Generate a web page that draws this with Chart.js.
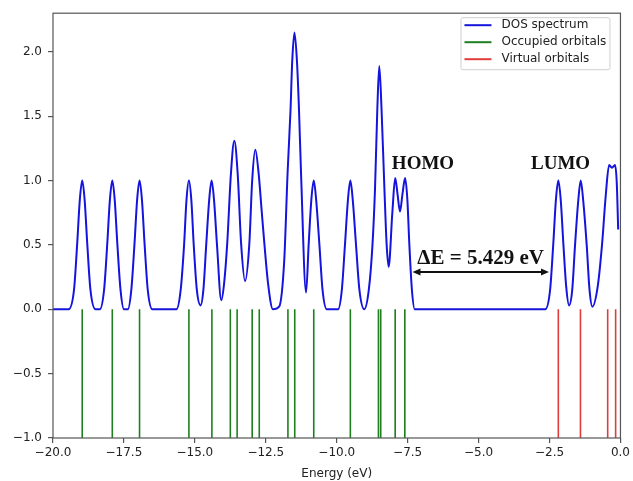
<!DOCTYPE html>
<html>
<head>
<meta charset="utf-8">
<script src="https://cdn.jsdelivr.net/npm/chart.js@4.4.0/dist/chart.umd.min.js"></script>
<style>
  html, body { margin: 0; padding: 0; background: #fff; }
  #dos { display: block; }
</style>
</head>
<body>
<canvas id="dos" width="633" height="481"></canvas>
<script>
// DOS curve (energy in eV, intensity)
const dosEnergy = [
  -20.0, -19.45, -19.26, -19.15, -19.055, -18.97, -18.885, -18.79, -18.68, -18.50,
  -18.35, -18.20, -18.09, -17.995, -17.91, -17.825, -17.73, -17.62, -17.50,
  -17.36, -17.24, -17.13, -17.035, -16.95, -16.865, -16.77, -16.66, -16.50,
  -15.65, -15.50, -15.38, -15.295, -15.21, -15.125, -15.04, -14.93, -14.80,
  -14.70, -14.60, -14.495, -14.41, -14.325, -14.22, -14.07,
  -13.97, -13.86, -13.73, -13.61, -13.49, -13.37, -13.23,
  -13.08, -12.98, -12.87, -12.75, -12.64, -12.55, -12.42, -12.25,
  -12.03, -11.85, -11.73, -11.63, -11.57, -11.49, -11.40, -11.33, -11.26, -11.08,
  -10.99, -10.895, -10.81, -10.725, -10.61, -10.50, -10.35,
  -9.95, -9.82, -9.71, -9.605, -9.52, -9.435, -9.32, -9.20, -9.03,
  -8.87, -8.74, -8.65, -8.57, -8.50, -8.42, -8.32, -8.24, -8.17,
  -8.04, -7.94, -7.86, -7.77, -7.68, -7.59, -7.51, -7.44, -7.35, -7.25,
  -2.65, -2.48, -2.37, -2.275, -2.19, -2.105, -2.01, -1.91, -1.81,
  -1.70, -1.60, -1.485, -1.40, -1.315, -1.19, -1.09, -0.99,
  -0.80, -0.65, -0.52, -0.40, -0.30, -0.19, -0.13, -0.08
];
const dosValue = [
  0.00, 0.00, 0.15, 0.50, 0.85, 1.00, 0.85, 0.50, 0.15, 0.00,
  0.00, 0.15, 0.50, 0.85, 1.00, 0.85, 0.50, 0.15, 0.00,
  0.00, 0.15, 0.50, 0.85, 1.00, 0.85, 0.50, 0.15, 0.00,
  0.00, 0.15, 0.50, 0.85, 1.00, 0.85, 0.50, 0.15, 0.03,
  0.15, 0.50, 0.85, 1.00, 0.85, 0.50, 0.07,
  0.20, 0.51, 1.05, 1.31, 1.05, 0.51, 0.22,
  0.51, 1.00, 1.24, 1.05, 0.75, 0.51, 0.20, 0.00,
  0.02, 0.38, 1.07, 1.54, 1.92, 2.15, 1.92, 1.55, 1.07, 0.13,
  0.50, 0.85, 1.00, 0.85, 0.50, 0.15, 0.00,
  0.00, 0.15, 0.50, 0.85, 1.00, 0.85, 0.50, 0.15, 0.00,
  0.15, 0.50, 0.94, 1.55, 1.89, 1.55, 0.94, 0.50, 0.33,
  0.75, 1.02, 0.90, 0.76, 0.90, 1.02, 0.85, 0.50, 0.15, 0.00,
  0.00, 0.15, 0.50, 0.85, 1.00, 0.85, 0.50, 0.17, 0.03,
  0.15, 0.50, 0.85, 1.00, 0.85, 0.50, 0.15, 0.02,
  0.18, 0.50, 0.88, 1.12, 1.10, 1.12, 0.98, 0.62
];

// orbital energies (eV)
const occupied = [-18.97, -17.91, -16.95, -15.21, -14.40, -13.75, -13.51, -12.98, -12.73,
                  -11.72, -11.48, -10.81, -9.52, -8.53, -8.45, -7.94, -7.60];
const virtual = [-2.19, -1.41, -0.45, -0.17];

const xTicks = [-20, -17.5, -15, -12.5, -10, -7.5, -5, -2.5, 0];
const yTicks = [-1, -0.5, 0, 0.5, 1, 1.5, 2];

const gapText = 'ΔE = 5.429 eV';

// vertical sticks from 0 down to -1, separated by null gaps
function sticks(energies) {
  const pts = [];
  energies.forEach(e => {
    pts.push({x: e, y: 0}, {x: e, y: -1}, {x: e, y: null});
  });
  return pts;
}

const tickFmt = v => v.toFixed(1).replace('-', '\u2212');

// box around the plot
const framePlugin = {
  id: 'frame',
  afterDatasetsDraw(chart) {
    const a = chart.chartArea, ctx = chart.ctx;
    ctx.save();
    ctx.strokeStyle = '#555';
    ctx.lineWidth = 1.2;
    ctx.strokeRect(a.left, a.top, a.right - a.left, a.bottom - a.top);
    ctx.restore();
  }
};

// HOMO / LUMO labels and the gap arrow
const notesPlugin = {
  id: 'notes',
  afterDraw(chart) {
    const ctx = chart.ctx, xs = chart.scales.x, ys = chart.scales.y;
    ctx.save();
    ctx.fillStyle = '#111';
    ctx.font = 'bold 19px "Liberation Serif", "DejaVu Serif", serif';
    ctx.textAlign = 'center';
    ctx.textBaseline = 'alphabetic';
    ctx.fillText('HOMO', xs.getPixelForValue(-6.96), ys.getPixelForValue(1.09));
    ctx.fillText('LUMO', xs.getPixelForValue(-2.11), ys.getPixelForValue(1.09));
    ctx.font = 'bold 21px "Liberation Serif", "DejaVu Serif", serif';
    ctx.fillText(gapText, xs.getPixelForValue(-4.93), ys.getPixelForValue(0.35));

    const x1 = xs.getPixelForValue(-7.33), x2 = xs.getPixelForValue(-2.52);
    const y = ys.getPixelForValue(0.29);
    ctx.strokeStyle = '#111';
    ctx.lineWidth = 2;
    ctx.beginPath();
    ctx.moveTo(x1 + 4, y);
    ctx.lineTo(x2 - 4, y);
    ctx.stroke();
    ctx.beginPath();
    ctx.moveTo(x1, y); ctx.lineTo(x1 + 8, y - 3.5); ctx.lineTo(x1 + 8, y + 3.5); ctx.closePath();
    ctx.moveTo(x2, y); ctx.lineTo(x2 - 8, y - 3.5); ctx.lineTo(x2 - 8, y + 3.5); ctx.closePath();
    ctx.fill();
    ctx.restore();
  }
};

// matplotlib style legend box in the upper right
const legendPlugin = {
  id: 'boxLegend',
  afterDraw(chart) {
    const ctx = chart.ctx, a = chart.chartArea;
    const w = 149, h = 52;
    const left = a.right - 11 - w, top = a.top + 4;
    ctx.save();
    ctx.fillStyle = 'rgba(255,255,255,0.85)';
    ctx.strokeStyle = '#cfcfcf';
    ctx.lineWidth = 1;
    ctx.beginPath();
    ctx.roundRect(left + 0.5, top + 0.5, w, h, 2);
    ctx.fill();
    ctx.stroke();
    ctx.font = '12px "DejaVu Sans", sans-serif';
    ctx.textBaseline = 'middle';
    chart.data.datasets.forEach((ds, i) => {
      const y = top + 8 + i * 17;
      ctx.strokeStyle = ds.borderColor;
      ctx.lineWidth = 2;
      ctx.beginPath();
      ctx.moveTo(left + 4, y);
      ctx.lineTo(left + 31, y);
      ctx.stroke();
      ctx.fillStyle = '#222';
      ctx.fillText(ds.label, left + 41, y);
    });
    ctx.restore();
  }
};

const ctx = document.getElementById('dos').getContext('2d');

new Chart(ctx, {
  type: 'line',
  data: {
    datasets: [
      {
        label: 'DOS spectrum',
        data: dosEnergy.map((e, i) => ({x: e, y: dosValue[i]})),
        borderColor: '#1414dc',
        borderWidth: 2,
        pointRadius: 0,
        cubicInterpolationMode: 'monotone'
      },
      {
        label: 'Occupied orbitals',
        data: sticks(occupied),
        borderColor: '#1f7f1f',
        borderWidth: 1.6,
        pointRadius: 0,
        spanGaps: false
      },
      {
        label: 'Virtual orbitals',
        data: sticks(virtual),
        borderColor: '#e03c3c',
        borderWidth: 1.6,
        pointRadius: 0,
        spanGaps: false
      }
    ]
  },
  options: {
    responsive: false,
    animation: false,
    devicePixelRatio: 1,
    layout: { padding: { top: 12, right: 12, left: 0, bottom: 0 } },
    plugins: {
      legend: { display: false },
      tooltip: { enabled: false }
    },
    scales: {
      x: {
        type: 'linear',
        min: -20,
        max: 0,
        afterBuildTicks: s => { s.ticks = xTicks.map(v => ({value: v})); },
        afterFit: s => { s.height = 43; },
        border: { display: false },
        grid: { drawOnChartArea: false, drawTicks: true, tickLength: 5, color: '#555', lineWidth: 1.2 },
        ticks: {
          callback: tickFmt,
          color: '#222',
          padding: 3,
          maxRotation: 0,
          autoSkip: false,
          font: { family: 'DejaVu Sans', size: 12 }
        },
        title: {
          display: true,
          text: 'Energy (eV)',
          color: '#222',
          padding: { top: 0, bottom: 0 },
          font: { family: 'DejaVu Sans', size: 12 }
        }
      },
      y: {
        min: -1,
        max: 2.30,
        afterBuildTicks: s => { s.ticks = yTicks.map(v => ({value: v})); },
        afterFit: s => { s.width = 53; },
        border: { display: false },
        grid: { drawOnChartArea: false, drawTicks: true, tickLength: 5, color: '#555', lineWidth: 1.2 },
        ticks: {
          callback: tickFmt,
          color: '#222',
          padding: 6,
          font: { family: 'DejaVu Sans', size: 12 }
        }
      }
    }
  },
  plugins: [framePlugin, notesPlugin, legendPlugin]
});
</script>
</body>
</html>
